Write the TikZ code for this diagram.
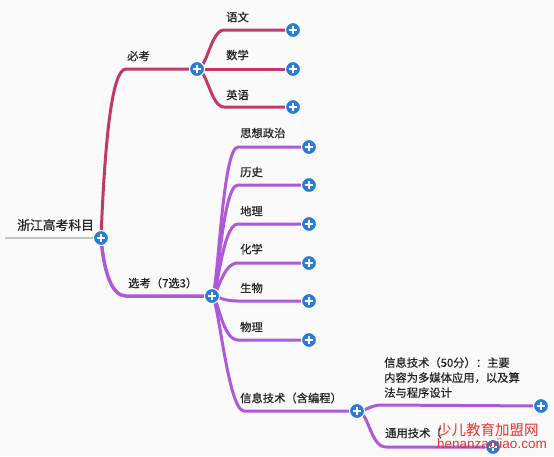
\documentclass[tikz,border=0pt]{standalone}
\usepackage{fontspec}
\setmainfont{Noto Sans CJK SC}
\newfontfamily\medfont{Noto Sans CJK SC}[FakeBold=0.8]
\newfontfamily\wmfont{Liberation Sans}
\usetikzlibrary{backgrounds}
\definecolor{plusblue}{HTML}{2A7CD8}
\definecolor{pinkc}{HTML}{C2386A}
\definecolor{purc}{HTML}{AE5AD8}
\definecolor{grayc}{HTML}{C4C4C4}
\definecolor{bgc}{HTML}{FAFAFA}
\definecolor{wmred}{HTML}{E8322A}
\begin{document}
\begin{tikzpicture}[x=1pt,y=-1pt,
  lab/.style={font=\medfont\fontsize{11.3}{13}\selectfont, anchor=west, inner sep=0, text=black!85},
  plusc/.style={circle, fill=plusblue, draw=white, line width=1pt, minimum size=15pt, inner sep=0,
    path picture={
      \draw[white,line width=1.7pt] ([xshift=-3.8pt]path picture bounding box.center) -- ([xshift=3.8pt]path picture bounding box.center);
      \draw[white,line width=1.7pt] ([yshift=-3.8pt]path picture bounding box.center) -- ([yshift=3.8pt]path picture bounding box.center);}},
  pk/.style={draw=pinkc, line width=3pt, line cap=round},
  pu/.style={draw=purc, line width=3pt, line cap=round},
  gl/.style={draw=grayc, line width=2.5pt}]
\useasboundingbox (0,0) rectangle (554,456);
% circles
\node[plusc] (root) at (101,238) {};
\node[plusc] (bk) at (197,69) {};
\node[plusc] (xk) at (212,296) {};
\node[plusc] (xx) at (357,411) {};
\node[plusc] (yw) at (293,30) {};
\node[plusc] (sx) at (293,69) {};
\node[plusc] (yy) at (293,107) {};
\node[plusc] (sz) at (309,147) {};
\node[plusc] (ls) at (309,185) {};
\node[plusc] (dl) at (309,224) {};
\node[plusc] (hx) at (309,263) {};
\node[plusc] (sw) at (309,301) {};
\node[plusc] (wl) at (309,340) {};
\node[plusc] (xa) at (541,406) {};
\node[plusc] (ty) at (493,447) {};
% bend coordinates
\coordinate (rs) at (5,238);
\coordinate (kbk) at (126,69);
\coordinate (kxk) at (126,296);
\coordinate (kyw) at (224,30);
\coordinate (ksx) at (224,69);
\coordinate (kyy) at (224,107);
\coordinate (ksz) at (238,147);
\coordinate (kls) at (238,185);
\coordinate (kdl) at (238,224);
\coordinate (khx) at (238,263);
\coordinate (ksw) at (238,301);
\coordinate (kwl) at (238,340);
\coordinate (kxx) at (244,411);
\coordinate (kxa) at (382,405);
\coordinate (kty) at (386,447);
\begin{pgfonlayer}{background}
\fill[bgc] (0,0) rectangle (554,456);
\draw[gl] (rs) -- (root.center);
\draw[pk] (root.center) .. controls +(4,-100) and +(-14,0) .. (kbk) -- (bk.center);
\draw[pu, line width=3.5pt] (root.center) .. controls +(3,35) and +(-14,0) .. (kxk) -- (xk.center);
\foreach \k/\e in {kyw/yw,ksx/sx,kyy/yy}
  \draw[pk] (bk.center) .. controls +(10,0) and +(-13,0) .. (\k) -- (\e.center);
\foreach \k/\e in {ksz/sz,kls/ls,kdl/dl,khx/hx,ksw/sw,kwl/wl,kxx/xx}
  \draw[pu] (xk.center) .. controls +(6,0) and +(-16,0) .. (\k) -- (\e.center);
\draw[pu] (xx.center) .. controls +(10,0) and +(-12,0) .. (kxa) -- (xa.center);
\draw[pu] (xx.center) .. controls +(12,0) and +(-16,0) .. (kty) -- (ty.center);
\end{pgfonlayer}
% labels
\node[lab, font=\medfont\fontsize{12.8}{14}\selectfont] (lroot) at (17,225) {浙江高考科目};
\node[lab] (lbk) at (127,56) {必考};
\node[lab] (lyw) at (226,17) {语文};
\node[lab] (lsx) at (226,55) {数学};
\node[lab] (lyy) at (226,95) {英语};
\node[lab] (lxk) at (128,283) {选考（7选3）};
\node[lab] (lsz) at (240,133) {思想政治};
\node[lab] (lls) at (240,172) {历史};
\node[lab] (ldl) at (240,211) {地理};
\node[lab] (lhx) at (240,249) {化学};
\node[lab] (lsw) at (240,288) {生物};
\node[lab] (lwl) at (240,327) {物理};
\node[lab] (lxx) at (240,398) {信息技术（含编程）};
\node[lab, anchor=north west, align=left, font=\medfont\fontsize{11.3}{15}\selectfont] (lxa) at (384,357) {信息技术（50分）：主要\\内容为多媒体应用，以及算\\法与程序设计};
\node[lab] (lty) at (385,433) {通用技术（};
% watermark
\node[anchor=west, inner sep=0, text=wmred, font=\fontsize{14.5}{15}\selectfont] (wm1) at (437,430) {少儿教育加盟网};
\node[anchor=west, inner sep=0, text=wmred, font=\wmfont\fontsize{13.5}{14}\selectfont] (wm2) at (437,445) {henanzaojiao.com};
\end{tikzpicture}
\end{document}
